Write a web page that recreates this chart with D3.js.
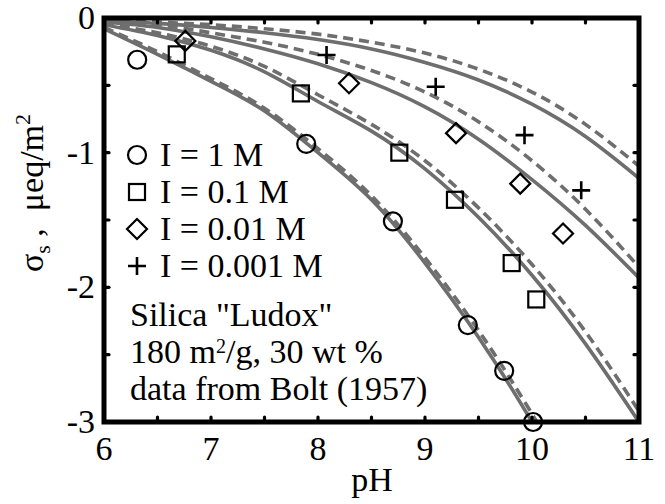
<!DOCTYPE html>
<html>
<head>
<meta charset="utf-8">
<script src="https://cdn.jsdelivr.net/npm/d3@7"></script>
<style>
  body { margin: 0; background: #fff; }
  svg text { font-family: "Liberation Serif", "Times New Roman", serif; fill: #000; }
</style>
</head>
<body>
<div id="chart"></div>
<script>
// surface charge of silica vs pH, four ionic strengths

const ionicLabels = ['I = 1 M', 'I = 0.1 M', 'I = 0.01 M', 'I = 0.001 M'];
const symbols = ['circle', 'square', 'diamond', 'plus'];

// measured points [pH, sigma]
const pts1M = [[6.31, -0.31], [7.89, -0.935], [8.70, -1.51], [9.40, -2.28], [9.74, -2.62], [10.01, -3.0]];
const pts01M = [[6.68, -0.27], [7.84, -0.56], [8.76, -1.0], [9.28, -1.35], [9.81, -1.82], [10.04, -2.09]];
const pts001M = [[6.76, -0.17], [8.29, -0.485], [9.29, -0.855], [9.89, -1.23], [10.29, -1.60]];
const pts0001M = [[8.08, -0.275], [9.10, -0.51], [9.93, -0.87], [10.46, -1.28]];

// model curves, sampled on this pH grid (1 M runs off the bottom after pH 10)
const pHGrid = [6, 6.5, 7, 7.5, 8, 8.5, 9, 9.5, 10, 10.5, 11];
const solid1M = [-0.08, -0.27, -0.47, -0.69, -1.00, -1.35, -1.82, -2.37, -3.00, -3.70];
const dash1M = [-0.07, -0.25, -0.45, -0.67, -0.97, -1.32, -1.78, -2.32, -2.94, -3.62];
const solid01M = [-0.05, -0.13, -0.24, -0.40, -0.62, -0.84, -1.12, -1.48, -1.91, -2.42, -3.00];
const dash01M = [-0.04, -0.11, -0.21, -0.36, -0.57, -0.79, -1.06, -1.41, -1.83, -2.33, -2.92];
const solid001M = [-0.03, -0.07, -0.14, -0.23, -0.34, -0.48, -0.66, -0.90, -1.20, -1.54, -1.93];
const dash001M = [-0.02, -0.05, -0.11, -0.18, -0.27, -0.39, -0.55, -0.77, -1.06, -1.42, -1.85];
const solid0001M = [-0.02, -0.04, -0.07, -0.11, -0.16, -0.23, -0.33, -0.46, -0.64, -0.88, -1.19];
const dash0001M = [-0.01, -0.03, -0.05, -0.08, -0.12, -0.18, -0.26, -0.38, -0.55, -0.79, -1.10];

const xTicks = [6, 7, 8, 9, 10, 11];
const yTicks = [0, -1, -2, -3];
const noteLines = ['Silica "Ludox"', '180 m2/g, 30 wt %', 'data from Bolt (1957)'];

const width = 665, height = 504;
const margin = { top: 18, right: 26, bottom: 82, left: 104 };
const innerW = width - margin.left - margin.right;
const innerH = height - margin.top - margin.bottom;
const fs = '34px';

const svg = d3.select('#chart').append('svg')
  .attr('width', width).attr('height', height);
const g = svg.append('g').attr('transform', `translate(${margin.left},${margin.top})`);

const x = d3.scaleLinear().domain([6, 11]).range([0, innerW]);
const y = d3.scaleLinear().domain([-3, 0]).range([innerH, 0]);

svg.append('defs').append('clipPath').attr('id', 'plotclip')
  .append('rect').attr('width', innerW).attr('height', innerH);

const line = d3.line()
  .x(d => x(d[0])).y(d => y(d[1]))
  .curve(d3.curveNatural);

const curves = [
  { v: solid1M, dash: false }, { v: dash1M, dash: true },
  { v: solid01M, dash: false }, { v: dash01M, dash: true },
  { v: solid001M, dash: false }, { v: dash001M, dash: true },
  { v: solid0001M, dash: false }, { v: dash0001M, dash: true }
];

const curveG = g.append('g').attr('clip-path', 'url(#plotclip)');
curves.forEach(c => {
  curveG.append('path')
    .datum(c.v.map((s, i) => [pHGrid[i], s]))
    .attr('d', line)
    .attr('fill', 'none')
    .attr('stroke', '#6e6e6e')
    .attr('stroke-width', 3.6)
    .attr('stroke-dasharray', c.dash ? '10,6' : null);
});

// frame ticks every 0.5, pointing inward, on all four sides
const minorX = d3.range(6, 11.01, 0.5);
const minorY = d3.range(-3, 0.01, 0.5);
const tickG = g.append('g').attr('stroke', '#000').attr('stroke-width', 3.2).attr('stroke-linecap', 'round');
minorX.forEach(t => {
  tickG.append('line').attr('x1', x(t)).attr('x2', x(t)).attr('y1', innerH).attr('y2', innerH - 5);
  tickG.append('line').attr('x1', x(t)).attr('x2', x(t)).attr('y1', 0).attr('y2', 5);
});
minorY.forEach(t => {
  tickG.append('line').attr('y1', y(t)).attr('y2', y(t)).attr('x1', 0).attr('x2', 5);
  tickG.append('line').attr('y1', y(t)).attr('y2', y(t)).attr('x1', innerW).attr('x2', innerW - 5);
});

g.append('rect')
  .attr('width', innerW).attr('height', innerH)
  .attr('fill', 'none').attr('stroke', '#000').attr('stroke-width', 5);

// tick labels
g.selectAll('.xl').data(xTicks).enter().append('text')
  .attr('x', d => x(d)).attr('y', innerH + 38)
  .attr('text-anchor', 'middle').style('font-size', fs)
  .text(d => d);
g.selectAll('.yl').data(yTicks).enter().append('text')
  .attr('x', -9).attr('y', d => y(d) + 11)
  .attr('text-anchor', 'end').style('font-size', fs)
  .text(d => d);

svg.append('text')
  .attr('x', 372).attr('y', 491)
  .attr('text-anchor', 'middle').style('font-size', fs)
  .text('pH');

const yt = svg.append('text')
  .attr('transform', 'translate(43,193) rotate(-90)')
  .attr('text-anchor', 'middle').style('font-size', fs)
  .style('white-space', 'pre');
yt.append('tspan').text('σ');
yt.append('tspan').attr('dy', 7).style('font-size', '22px').text('s');
yt.append('tspan').attr('dy', -7).text(' ,  μeq/m');
yt.append('tspan').attr('dy', -13).style('font-size', '22px').text('2');

// marker shapes
function drawMarker(sel, type, cx, cy) {
  const m = sel.append('g').attr('transform', `translate(${cx},${cy})`)
    .attr('fill', 'none').attr('stroke', '#000').attr('stroke-width', 2.2);
  if (type === 'circle') m.append('circle').attr('r', 9);
  if (type === 'square') m.append('rect').attr('x', -8).attr('y', -8).attr('width', 16).attr('height', 16);
  if (type === 'diamond') m.append('path').attr('d', 'M0,-10L10,0L0,10L-10,0Z');
  if (type === 'plus') m.append('path').attr('d', 'M-9,0H9M0,-9V9').attr('stroke-width', 2.6);
}

const series = [pts1M, pts01M, pts001M, pts0001M];
const markG = g.append('g');
series.forEach((pts, i) => {
  pts.forEach(p => drawMarker(markG, symbols[i], x(p[0]), y(p[1])));
});

// legend
const legG = svg.append('g');
ionicLabels.forEach((lab, i) => {
  const cy = 155 + i * 37;
  drawMarker(legG, symbols[i], 137, cy);
  legG.append('text').attr('x', 160).attr('y', cy + 11)
    .style('font-size', fs).text(lab);
});

// note
const note = svg.append('g');
note.append('text').attr('x', 130).attr('y', 326).style('font-size', fs).text(noteLines[0]);
const l2 = note.append('text').attr('x', 130).attr('y', 363).style('font-size', fs);
l2.append('tspan').text('180 m');
l2.append('tspan').attr('dy', -10).style('font-size', '20px').text('2');
l2.append('tspan').attr('dy', 10).text('/g, 30 wt %');
note.append('text').attr('x', 130).attr('y', 400).style('font-size', fs).text(noteLines[2]);
</script>
</body>
</html>
